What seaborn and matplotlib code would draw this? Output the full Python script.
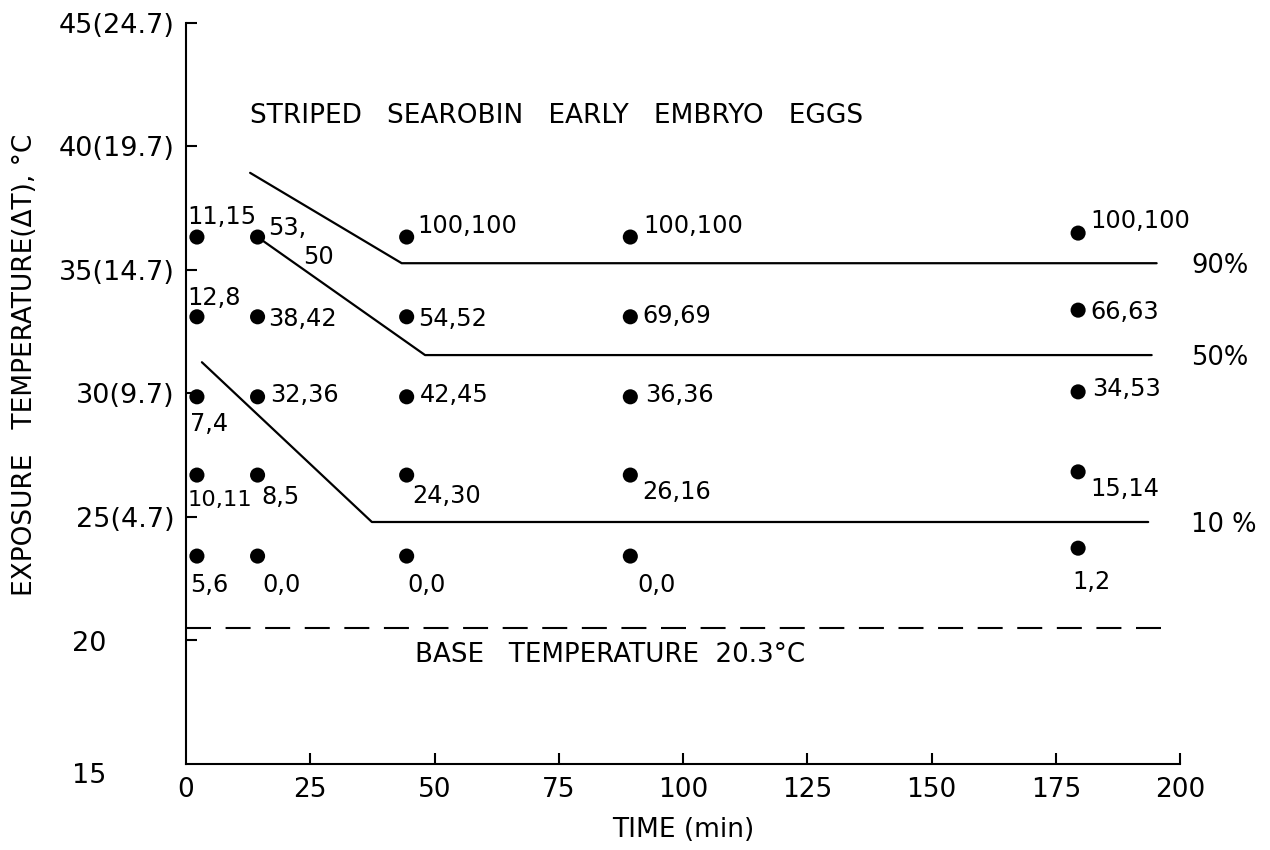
import matplotlib
matplotlib.use("Agg")
import matplotlib.pyplot as plt
import numpy as np
import pandas as pd
import seaborn as sns

# ---------------- data ----------------
times = [2.2, 14.4, 44.4, 89.4, 179.5]          # exposure time (min)
# exposure temperature of each point, one row per temperature level
temps_row1 = [36.32, 36.32, 36.32, 36.32, 36.48]
temps_row2 = [33.09, 33.09, 33.09, 33.09, 33.36]
temps_row3 = [29.85, 29.85, 29.85, 29.85, 30.05]
temps_row4 = [26.68, 26.68, 26.68, 26.68, 26.81]
temps_row5 = [23.40, 23.40, 23.40, 23.40, 23.72]
temp_rows = [temps_row1, temps_row2, temps_row3, temps_row4, temps_row5]

# % mortality pairs at each point
labels_row1 = ["11,15", "53,\n50", "100,100", "100,100", "100,100"]
labels_row2 = ["12,8", "38,42", "54,52", "69,69", "66,63"]
labels_row3 = ["7,4", "32,36", "42,45", "36,36", "34,53"]
labels_row4 = ["10,11", "8,5", "24,30", "26,16", "15,14"]
labels_row5 = ["5,6", "0,0", "0,0", "0,0", "1,2"]
label_rows = [labels_row1, labels_row2, labels_row3, labels_row4, labels_row5]

# mortality isopleths
line90_x = [12.9, 43.4, 195.3]
line90_y = [38.92, 35.26, 35.26]
line50_x = [14.4, 48.1, 194.3]
line50_y = [36.32, 31.54, 31.54]
line10_x = [3.2, 37.4, 193.6]
line10_y = [31.25, 24.78, 24.78]
iso_names = ["90%", "50%", "10 %"]

base_temp = 20.5
base_x = [0, 197.8]

xticks = [0, 25, 50, 75, 100, 125, 150, 175, 200]
xtick_labels = ["0", "25", "50", "75", "100", "125", "150", "175", "200"]
yticks = [15, 20, 25, 30, 35, 40, 45]
ytick_labels = ["15", "20", "25(4.7)", "30(9.7)", "35(14.7)", "40(19.7)", "45(24.7)"]

title_text = "STRIPED   SEAROBIN   EARLY   EMBRYO   EGGS"
base_text = "BASE   TEMPERATURE  20.3°C"
xlabel_text = "TIME (min)"
ylabel_text = "EXPOSURE   TEMPERATURE(ΔT), °C"

# ---------------- style ----------------
sns.set_theme(style="ticks")
plt.rcParams["font.family"] = ["DejaVu Sans"]
plt.rcParams["axes.linewidth"] = 1.5

W, H = 1270, 850
fig = plt.figure(figsize=(W / 100, H / 100), dpi=100)
fig.patch.set_facecolor("white")
ax_left, ax_right, ax_top, ax_bottom = 186, 1180, 22.7, 763.5
ax = fig.add_axes([ax_left / W, 1 - ax_bottom / H,
                   (ax_right - ax_left) / W, (ax_bottom - ax_top) / H])
ax.set_facecolor("white")

# points
rows = []
for r, (tr, lr) in enumerate(zip(temp_rows, label_rows)):
    for c, (t, y, lab) in enumerate(zip(times, tr, lr)):
        rows.append({"time": t, "temp": y, "label": lab, "r": r, "c": c})
df = pd.DataFrame(rows)
sns.scatterplot(data=df, x="time", y="temp", color="black", s=118,
                edgecolor="none", ax=ax, zorder=3, clip_on=False)

# isopleth lines
for lx, ly in [(line90_x, line90_y), (line50_x, line50_y), (line10_x, line10_y)]:
    sns.lineplot(x=lx, y=ly, sort=False, estimator=None, color="black",
                 linewidth=1.6, ax=ax, clip_on=False)

# base temperature (dashed)
sns.lineplot(x=base_x, y=[base_temp, base_temp], sort=False, estimator=None,
             color="black", linewidth=1.5, ax=ax, clip_on=False)
ax.lines[-1].set_linestyle((0, (12, 7)))

# label offsets in pixels: (dx to text left, dy down to text baseline)
offsets = [
    [(-10, -13), (11, -2), (11, -4), (13, -4), (12, -5)],
    [(-10, -12), (11, 9), (11, 9), (12, 6), (12, 9)],
    [(-7, 34), (13, 5), (13, 5), (15, 5), (14, 4)],
    [(-9, 31), (4, 29), (6, 28), (12, 24), (12, 24)],
    [(-7, 36), (5, 36), (1, 36), (7, 36), (-6, 41)],
]
second_line = {(0, 1): (46, 27)}
fs_lab = 17.3
for _, row in df.iterrows():
    r, c = int(row["r"]), int(row["c"])
    parts = row["label"].split("\n")
    dx, dy = offsets[r][c]
    fs = fs_lab if row["label"] != "10,11" else 16.2
    ax.annotate(parts[0], (row["time"], row["temp"]), xytext=(dx, -dy),
                textcoords="offset pixels", ha="left", va="baseline",
                fontsize=fs, color="black", annotation_clip=False)
    if len(parts) > 1:
        dx2, dy2 = second_line[(r, c)]
        ax.annotate(parts[1], (row["time"], row["temp"]), xytext=(dx2, -dy2),
                    textcoords="offset pixels", ha="left", va="baseline",
                    fontsize=fs_lab, color="black", annotation_clip=False)

# isopleth names
for name, ly in zip(iso_names, [line90_y, line50_y, line10_y]):
    ax.text(202.2, ly[-1], name, ha="left", va="center_baseline",
            fontsize=18.5, color="black", clip_on=False)

# in-plot texts
ax.text(12.9, 40.94, title_text, ha="left", va="baseline", fontsize=19,
        color="black")
ax.text(46.1, 19.11, base_text, ha="left", va="baseline", fontsize=18.8,
        color="black")

# axes
ax.set_xlim(0, 200)
ax.set_ylim(15, 45)
ax.set_xticks(xticks)
ax.set_xticklabels(xtick_labels, fontsize=19)
ax.set_yticks(yticks)
# '20' and '15' are drawn left-aligned with the other labels below
ax.set_yticklabels([""] * 2 + ytick_labels[2:], fontsize=19.5)
ax.tick_params(axis="both", direction="in", length=8, width=1.5,
               color="black", labelcolor="black")
ax.tick_params(axis="y", pad=8)
ax.tick_params(axis="x", pad=10)
ax.yaxis.get_major_ticks()[0].tick1line.set_visible(False)
ax.xaxis.get_major_ticks()[0].tick1line.set_visible(False)
sns.despine(ax=ax)
for s in ["left", "bottom"]:
    ax.spines[s].set_color("black")
ax.set_xlabel("")
ax.set_ylabel("")

fig.text(72 / W, 1 - 641 / H, ytick_labels[1], ha="left", va="center_baseline",
         fontsize=19.5, color="black")
fig.text(72 / W, 1 - 773 / H, ytick_labels[0], ha="left", va="center_baseline",
         fontsize=19.5, color="black")

fig.text(683 / W, 1 - 837 / H, xlabel_text, ha="center", va="baseline",
         fontsize=19, color="black")
fig.text(25 / W, 1 - 365 / H, ylabel_text, ha="center", va="center",
         rotation=90, fontsize=19, color="black")

fig.savefig("out.png", dpi=100, facecolor="white")
